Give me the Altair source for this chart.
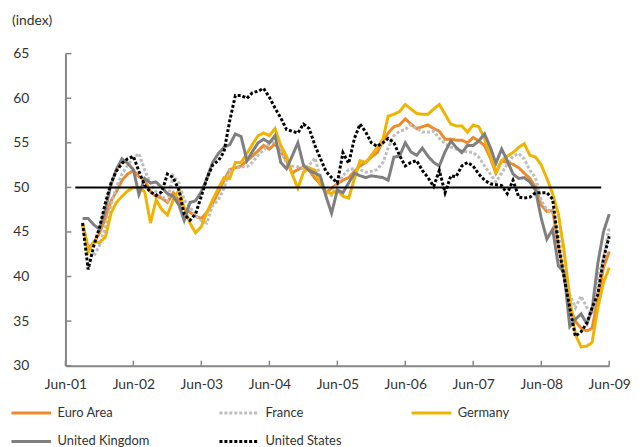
import altair as alt
import pandas as pd

# Monthly data, Sep-2001 .. Jun-2009
months = [d.strftime("%Y-%m-%d") for d in pd.date_range("2001-09-01", "2009-06-01", freq="MS")]

euro = [46, 43.2, 43.8, 44.9, 46.5, 48.5, 49.5, 50.8, 51.5,
        51.9, 51.2, 50.8, 49.5, 49, 48.8, 48.3, 49.4, 48.5, 47.7, 47.2, 46.8,
        46.5, 47.2, 48.2, 49.5, 50.8, 52, 52.2, 52.4, 53, 53.5, 54.1, 54.7,
        54.3, 54.9, 54, 53, 51.6, 52, 52.3, 51.9, 51, 50.4, 49.4, 49.9,
        50.4, 50.8, 51.1, 51.8, 52.4, 52.8, 53.4, 53.9, 55.2, 56.1, 56.8, 57,
        57.7, 57.1, 56.6, 56.8, 57, 56.6, 56.3, 55.4, 55.4, 55.3, 55.3, 55,
        55.6, 55.2, 54.7, 53.3, 51.6, 53, 52.8, 52.6, 52.2, 51.6, 51, 50,
        48, 47.3, 47.4, 43.5, 40, 36.5, 35, 34.2, 33.9, 34.2, 37.5, 41,
        42.8]

france = [45.8, 43, 42.3, 43.5, 45.5, 48, 50, 51.5, 52.5,
          53.3, 53.8, 51.9, 50.5, 49.5, 49, 48.5, 51.3, 50.5, 48.6, 47.8, 46.8,
          46.3, 46, 48, 48.6, 49.9, 52, 52.1, 52.3, 52.3, 52.8, 53.6, 54.2,
          54.9, 55.2, 54.1, 52.7, 52.4, 52.3, 52.1, 52.5, 53.3, 51.1, 49.5, 49.1,
          50.4, 51.3, 52, 52.1, 52, 51.7, 51.8, 52, 52.8, 54.4, 55.8, 56.3,
          56.5, 57, 56.6, 56.2, 56.2, 56.3, 55.5, 54.9, 54.5, 54.3, 54.1, 54,
          53.9, 53.4, 52.4, 51.5, 50.6, 51.6, 52.6, 53.5, 53.8, 53.2, 51.9, 51.1,
          48.5, 47.5, 47.3, 45, 41, 38, 36.5, 37.8, 36.5, 35.8, 39.7, 42,
          45.5]

germany = [46, 42.7, 43.9, 43.8, 44.4, 47.1, 48.3, 49, 49.6,
           50, 50, 49.5, 46, 48.6, 47.5, 46.9, 48.6, 49.7, 47.7, 46, 44.9,
           45.6, 47.2, 48.6, 49.9, 51.1, 51, 52.8, 52.8, 53.8, 54.8, 55.8, 56.1,
           55.8, 56.6, 54.7, 53.5, 51.5, 49.9, 51.7, 52.2, 51.9, 50.3, 49.5, 49.3,
           49.7, 49, 48.8, 51, 53, 52.8, 53.6, 54.5, 55.4, 58, 58.2, 58.5,
           59.3, 58.8, 58.3, 58.2, 58.2, 58.8, 59.3, 58.2, 57.1, 56.9, 56.9, 56.2,
           57, 56.8, 55.5, 53.5, 51.7, 53, 53.5, 53.9, 54.5, 54.9, 53.6, 53.4,
           52.5, 51, 49.3, 47, 43, 37.5, 33.5, 32.1, 32.2, 32.6, 36.5, 39.3,
           41]

uk = [46.5, 46.5, 45.8, 45.3, 47.5, 50.3, 52, 53.2, 52.7,
      52, 49.2, 51, 50.5, 50.6, 50, 49.3, 49, 48, 46.3, 48.3, 48.5,
      49.5, 51, 52.8, 53.8, 54.5, 54.8, 56, 55.7, 53, 54, 55, 55.4,
      55, 55.8, 52.8, 52.1, 53.5, 55, 52.5, 51.9, 51.6, 51.3, 49, 47.1,
      49.7, 49.4, 50.5, 51.6, 51.3, 51.1, 51.3, 51.2, 51.1, 50.8, 53.4, 53.5,
      55, 54, 53.6, 54.4, 53.5, 52.8, 52.4, 54, 55.2, 54.5, 53.9, 54.7,
      54.7, 55.2, 56, 54.5, 52.7, 54.3, 53, 51.5, 51, 51.1, 50.6, 49.7,
      46.5, 44.2, 45.3, 41.2, 40.5, 34.4, 35.2, 35.8, 34.7, 36.3, 41.5, 45,
      47]

us = [46, 40.8, 43.5, 45.5, 48.2, 50.5, 51.8, 52.7, 53.2,
      53.5, 51.8, 50.2, 49.5, 49.1, 49.5, 51.5, 51.1, 49.7, 47, 46.3, 47,
      49, 51, 52.5, 53, 54, 57.5, 60.3, 60.3, 60, 60.6, 60.8, 61.1,
      60.1, 58.9, 57.8, 56.5, 56.3, 56.1, 57.1, 56.6, 54.7, 53.3, 51.8, 51.1,
      50.5, 53.9, 52.7, 55.5, 57.1, 56.2, 55, 54.6, 55, 55.5, 55, 53.6,
      52.4, 52.8, 53, 51.9, 51.1, 50.1, 51.9, 49.4, 51.3, 51.2, 52.4, 52.8,
      52.4, 51.5, 50.8, 50.4, 50.3, 50.2, 49.3, 50.8, 48.9, 48.8, 48.9, 49.4,
      49.4, 49.4, 48.7, 43.5, 40, 36.5, 33.3, 33.8, 34.8, 36.5, 38, 42,
      44.5]

series_names = ["Euro Area", "France", "Germany", "United Kingdom", "United States"]
series_values = [euro, france, germany, uk, us]
series_colors = ["#EC8A2C", "#BDBDBD", "#F0B400", "#7F7F7F", "#000000"]
series_dashes = [[1, 0], [3, 2], [1, 0], [1, 0], [3, 2]]

x_tick_dates = [f"{y}-06-01" for y in range(2001, 2010)]
y_tick_values = [30, 35, 40, 45, 50, 55, 60, 65]
ref_start, ref_end, ref_value = "2001-07-24", "2009-04-19", 50

rows = []
for name, vals in zip(series_names, series_values):
    assert len(vals) == len(months), (name, len(vals))
    for d, v in zip(months, vals):
        rows.append({"date": d, "series": name, "value": v})
df = pd.DataFrame(rows)

FONT = "Lato"
TXT = "#333333"
W, H = 549, 315
GRAY = "#868686"

xscale = alt.Scale(type="utc",
                   domain=[alt.DateTime(year=2001, month=6, date=1, utc=True),
                           alt.DateTime(year=2009, month=6, date=1, utc=True)])
yscale = alt.Scale(domain=[30, 65], nice=False, zero=False)

legend = alt.Legend(title=None, orient="none", legendX=-56, legendY=341,
                    direction="horizontal", columns=3, symbolType="stroke",
                    symbolSize=1600, symbolStrokeWidth=3, labelFontSize=13,
                    labelFont=FONT, labelColor=TXT, columnPadding=64,
                    rowPadding=-13, labelOffset=5)

lines = alt.Chart(df).mark_line(strokeWidth=3).encode(
    x=alt.X("date:T", scale=xscale, title=None,
            axis=alt.Axis(values=[alt.DateTime(year=y, month=6, date=1, utc=True) for y in range(2001, 2010)],
                          format="%b-%y", ticks=False, labelPadding=12, labelFlush=False,
                          labelFontSize=14, labelFont=FONT, labelColor=TXT,
                          domainColor=GRAY, domainWidth=2, grid=False)),
    y=alt.Y("value:Q", scale=yscale, title=None,
            axis=alt.Axis(values=y_tick_values, ticks=False, labelPadding=37,
                          labelFontSize=14, labelFont=FONT, labelColor=TXT,
                          domainColor=GRAY, domainWidth=2, grid=False)),
    color=alt.Color("series:N", scale=alt.Scale(domain=series_names, range=series_colors), legend=legend),
    strokeDash=alt.StrokeDash("series:N", scale=alt.Scale(domain=series_names, range=series_dashes), legend=legend),
)

xt = alt.Chart(pd.DataFrame({"date": x_tick_dates})).mark_rule(color=GRAY, strokeWidth=1.5).encode(
    x=alt.X("date:T", scale=xscale), y=alt.value(H), y2=alt.value(H - 5))
yt = alt.Chart(pd.DataFrame({"v": y_tick_values})).mark_rule(color=GRAY, strokeWidth=1.5).encode(
    y=alt.Y("v:Q", scale=yscale), x=alt.value(0), x2=alt.value(6))
ref = alt.Chart(pd.DataFrame({"start": [ref_start], "end": [ref_end], "v": [ref_value]})).mark_rule(
    color="#000000", strokeWidth=2).encode(
    x=alt.X("start:T", scale=xscale), x2="end:T", y=alt.Y("v:Q", scale=yscale))

chart = alt.layer(lines, xt, yt, ref).properties(
    width=W, height=H,
    title=alt.TitleParams("(index)", anchor="start", dx=-54, offset=19, fontSize=14,
                          fontWeight="normal", font=FONT, color=TXT, frame="group"),
    autosize=alt.AutoSizeParams(type="none"),
    padding={"left": 58, "top": 44, "right": 23, "bottom": 80},
).configure_view(stroke=None)

chart.save("out.html", embed_options={"renderer": "svg", "actions": False})
